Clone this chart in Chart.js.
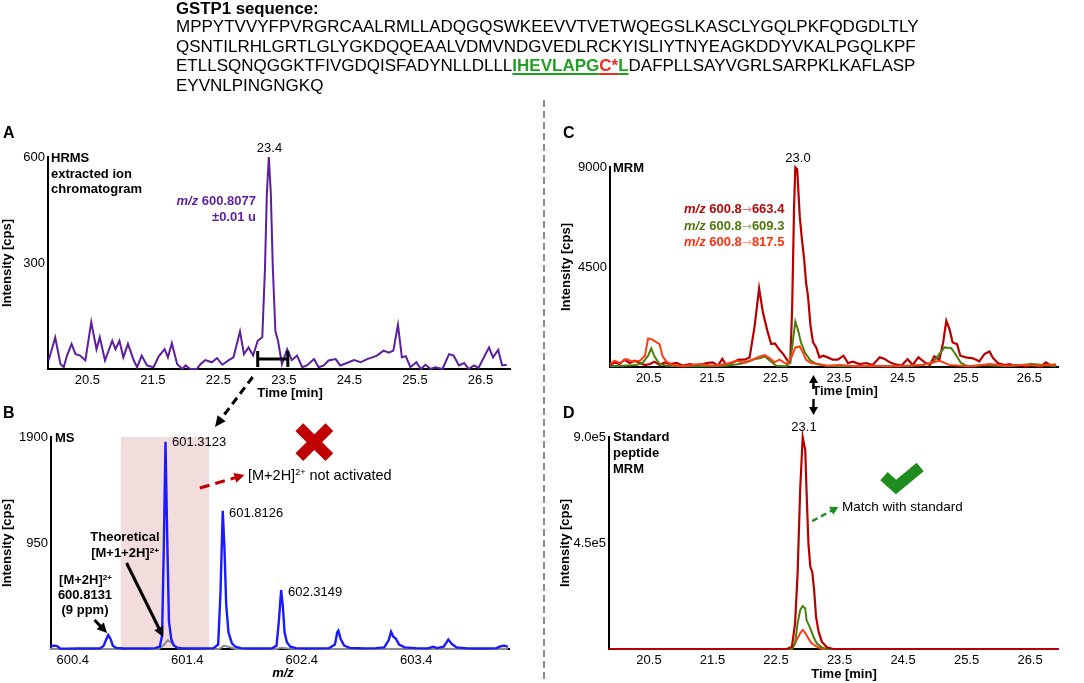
<!DOCTYPE html>
<html lang="en">
<head>
<meta charset="UTF-8">
<script src="https://cdn.jsdelivr.net/npm/chart.js"></script>
<title>GSTP1 peptide identification</title>
<style>
  body { margin: 0; background: #fff; }
  #page { position: relative; width: 1084px; height: 683px; overflow: hidden;
          font-family: 'Liberation Sans', Arial, sans-serif; color: #000; }
  #page canvas { position: absolute; left: 0; top: 0; }
  .t { position: absolute; white-space: nowrap; line-height: 20px; }
  sup { font-size: 62%; line-height: 0; vertical-align: 0.55em; }
  .pep { font-weight: bold; text-decoration: underline; text-decoration-thickness: 2px; text-underline-offset: 2px; }
  .ar { font-family: 'DejaVu Sans', sans-serif; font-weight: normal; font-size: 12px; }
</style>
</head>
<body>
<div id="page">
  <canvas id="chA" width="1084" height="683"></canvas>
  <canvas id="chB" width="1084" height="683"></canvas>
  <canvas id="chC" width="1084" height="683"></canvas>
  <canvas id="chD" width="1084" height="683"></canvas>
</div>

<script>
// ---- data ----

// A: HRMS extracted ion chromatogram (m/z 600.8077)
const timeA = [19.91, 20.01, 20.09, 20.14, 20.19, 20.26, 20.32, 20.39, 20.47, 20.56,
  20.64, 20.69, 20.77, 20.88, 20.93, 20.99, 21.05, 21.12, 21.21, 21.26,
  21.33, 21.41, 21.51, 21.59, 21.68, 21.73, 21.79, 21.87, 21.95, 22.00,
  22.07, 22.17, 22.23, 22.30, 22.40, 22.48, 22.56, 22.66, 22.73, 22.83,
  22.89, 22.96, 23.03, 23.10, 23.17, 23.21, 23.24, 23.27, 23.30, 23.33,
  23.37, 23.41, 23.47, 23.55, 23.62, 23.70, 23.78, 23.85, 23.96, 24.03,
  24.11, 24.18, 24.29, 24.36, 24.46, 24.57, 24.67, 24.77, 24.85, 24.92,
  25.02, 25.10, 25.17, 25.24, 25.30, 25.36, 25.43, 25.52, 25.59, 25.66,
  25.74, 25.81, 25.92, 26.02, 26.09, 26.17, 26.25, 26.32, 26.40, 26.47,
  26.56, 26.63, 26.69, 26.77, 26.83, 26.90];
const intA = [25, 89, 14, 5, 38, 71, 42, 38, 24, 133,
  56, 90, 24, 80, 56, 80, 33, 71, 24, 5,
  38, 10, 5, 36, 56, 33, 73, 14, 0, 10,
  0, 0, 14, 25, 19, 31, 12, 25, 33, 106,
  42, 61, 38, 80, 90, 280, 497, 600, 497, 290,
  107, 80, 14, 56, 25, 38, 5, 10, 28, 5,
  10, 24, 28, 10, 17, 25, 19, 28, 33, 38,
  52, 46, 52, 125, 33, 36, 5, 19, 0, 12,
  0, 5, 0, 42, 38, 10, 17, 0, 10, 3,
  36, 61, 33, 54, 10, 12];

// B: MS spectrum (blue = measured, grey = theoretical)
const mzB = [600.20, 600.23, 600.26, 600.29, 600.35, 600.45, 600.55, 600.64, 600.67, 600.69,
  600.71, 600.73, 600.75, 600.78, 600.85, 600.95, 601.05, 601.12, 601.16, 601.18,
  601.195, 601.21, 601.225, 601.24, 601.26, 601.28, 601.31, 601.36, 601.45, 601.55,
  601.63, 601.67, 601.69, 601.71, 601.725, 601.74, 601.76, 601.79, 601.82, 601.87,
  601.95, 602.05, 602.14, 602.18, 602.20, 602.22, 602.235, 602.25, 602.27, 602.30,
  602.35, 602.45, 602.55, 602.64, 602.69, 602.71, 602.72, 602.74, 602.77, 602.82,
  602.95, 603.05, 603.12, 603.16, 603.18, 603.20, 603.22, 603.25, 603.30, 603.40,
  603.50, 603.53, 603.55, 603.58, 603.64, 603.68, 603.71, 603.75, 603.85, 604.00,
  604.10, 604.14, 604.17, 604.20];
const intB = [20, 30, 28, 5, 3, 5, 4, 6, 30, 80,
  125, 90, 30, 10, 5, 6, 5, 8, 20, 120,
  900, 1858, 1000, 250, 90, 35, 12, 6, 5, 6,
  8, 40, 500, 1239, 900, 400, 150, 50, 20, 8,
  5, 5, 6, 30, 250, 529, 380, 150, 60, 20,
  8, 5, 6, 8, 40, 150, 164, 90, 30, 10,
  6, 8, 15, 80, 155, 110, 95, 40, 15, 8,
  6, 15, 21, 8, 20, 84, 45, 15, 6, 5,
  8, 25, 30, 18];
const mzTheo = [600.20, 601.15, 601.20, 601.23, 601.27, 601.32, 601.68, 601.72, 601.76, 601.82,
  602.18, 602.22, 602.28, 602.35, 604.20];
const intTheo = [0, 0, 40, 80, 50, 5, 0, 30, 20, 0,
  0, 12, 5, 0, 0];

// C: MRM transitions of the sample
const timeC1 = [19.89, 19.96, 20.04, 20.12, 20.20, 20.28, 20.36, 20.44, 20.52, 20.59,
  20.67, 20.75, 20.83, 20.94, 21.04, 21.15, 21.28, 21.41, 21.51, 21.59,
  21.66, 21.72, 21.83, 21.92, 22.01, 22.09, 22.17, 22.24, 22.30, 22.37,
  22.43, 22.49, 22.55, 22.62, 22.69, 22.73, 22.76, 22.79, 22.81, 22.84,
  22.88, 22.91, 22.95, 22.98, 23.01, 23.05, 23.09, 23.14, 23.19, 23.25,
  23.32, 23.40, 23.48, 23.57, 23.64, 23.72, 23.82, 23.93, 24.03, 24.14,
  24.22, 24.30, 24.37, 24.48, 24.58, 24.66, 24.75, 24.85, 24.93, 25.00,
  25.08, 25.14, 25.19, 25.24, 25.29, 25.36, 25.41, 25.50, 25.61, 25.71,
  25.79, 25.87, 25.92, 26.00, 26.11, 26.19, 26.26, 26.37, 26.45, 26.53,
  26.61, 26.68, 26.76, 26.84, 26.92];
const intC1 = [60, 210, 134, 328, 180, 284, 180, 90, 134, 239,
  90, 209, 134, 180, 60, 134, 60, 180, 209, 60,
  373, 90, 209, 328, 328, 433, 1851, 3538, 2448, 1627,
  1030, 1060, 806, 582, 284, 209, 2597, 7075, 8986, 8897,
  6777, 5881, 4836, 3791, 3194, 1851, 1105, 881, 433, 508,
  433, 328, 328, 508, 180, 239, 134, 180, 90, 433,
  358, 209, 134, 60, 358, 90, 433, 209, 90, 478,
  328, 1105, 2075, 1702, 1105, 1030, 508, 433, 388, 254,
  582, 701, 433, 180, 90, 134, 60, 90, 30, 134,
  60, 30, 209, 60, 90];
const timeC2 = [19.89, 20.10, 20.31, 20.41, 20.49, 20.54, 20.59, 20.67, 20.78, 20.99,
  21.41, 21.72, 21.93, 22.04, 22.17, 22.25, 22.33, 22.41, 22.51, 22.67,
  22.73, 22.77, 22.81, 22.85, 22.90, 22.96, 23.04, 23.14, 23.30, 23.51,
  24.03, 24.56, 24.82, 24.98, 25.08, 25.16, 25.27, 25.35, 25.42, 25.53,
  25.77, 26.13, 26.55, 26.92];
const intC2 = [30, 60, 90, 209, 508, 836, 478, 134, 60, 30,
  30, 60, 134, 209, 358, 388, 478, 284, 60, 30,
  209, 1105, 2045, 1702, 1105, 657, 328, 134, 60, 30,
  30, 30, 90, 209, 582, 881, 851, 508, 180, 30,
  90, 30, 134, 30];
const timeC3 = [19.89, 19.96, 20.04, 20.15, 20.25, 20.36, 20.44, 20.49, 20.54, 20.59,
  20.67, 20.72, 20.78, 20.88, 21.04, 21.30, 21.51, 21.72, 21.88, 21.99,
  22.14, 22.25, 22.33, 22.41, 22.48, 22.56, 22.67, 22.75, 22.81, 22.88,
  22.93, 22.98, 23.06, 23.17, 23.30, 23.51, 23.77, 24.03, 24.30, 24.56,
  24.82, 25.08, 25.24, 25.40, 25.61, 25.87, 26.13, 26.40, 26.66, 26.92];
const intC3 = [134, 284, 180, 358, 239, 284, 508, 1284, 1254, 1179,
  1030, 478, 239, 90, 30, 134, 60, 134, 284, 209,
  328, 478, 537, 388, 209, 328, 134, 433, 881, 926,
  657, 328, 180, 134, 60, 90, 30, 60, 30, 60,
  90, 284, 90, 60, 30, 134, 60, 90, 60, 119];

// D: MRM of the standard peptide
const timeD1 = [19.87, 22.67, 22.75, 22.80, 22.84, 22.88, 22.92, 22.96, 22.98, 23.01,
  23.04, 23.07, 23.10, 23.13, 23.17, 23.22, 23.30, 23.40, 26.95];
const intD1 = [0, 0, 9900, 109000, 321000, 675000, 900000, 845000, 675000, 448600,
  349000, 328000, 250000, 137000, 73500, 31000, 7000, 0, 0];
const timeD2 = [19.87, 22.75, 22.80, 22.84, 22.88, 22.92, 22.96, 22.98, 23.04, 23.09,
  23.14, 23.22, 23.30, 26.95];
const intD2 = [0, 0, 24000, 109000, 165000, 182500, 172000, 123000, 87700, 52000,
  24000, 7000, 0, 0];
const timeD3 = [19.87, 22.75, 22.81, 22.88, 22.92, 22.96, 23.01, 23.06, 23.14, 23.22, 26.95];
const intD3 = [0, 0, 31000, 67000, 80700, 69000, 45000, 24000, 9900, 0, 0];

// tick labels
const timeTicks = [20.5, 21.5, 22.5, 23.5, 24.5, 25.5, 26.5];
const mzTicks = [600.4, 601.4, 602.4, 603.4];
const ticksA = [300, 600];
const ticksB = [950, 1900];
const ticksC = [4500, 9000];
const ticksD = [450000, 900000];

// ---- drawing ----
const FONT = "'Liberation Sans', Arial, sans-serif";
Chart.defaults.font.family = FONT;
const RED = '#b80000', GREEN = '#4a7f0c', ORANGE = '#ff3c14';

function pts(xs, ys) { return xs.map((x, i) => ({ x: x, y: ys[i] })); }

function line(xs, ys, color, w) {
  return { data: pts(xs, ys), borderColor: color, borderWidth: w || 2, clip: false };
}

function arrow(ctx, x1, y1, x2, y2, o) {
  const a = Math.atan2(y2 - y1, x2 - x1), hl = o.head || 10, hw = o.hw || 5;
  ctx.save();
  ctx.strokeStyle = ctx.fillStyle = o.color;
  ctx.lineWidth = o.width;
  ctx.setLineDash(o.dash || []);
  ctx.beginPath();
  ctx.moveTo(x1, y1);
  ctx.lineTo(x2 - Math.cos(a) * hl * 0.8, y2 - Math.sin(a) * hl * 0.8);
  ctx.stroke();
  ctx.setLineDash([]);
  ctx.beginPath();
  ctx.moveTo(x2, y2);
  ctx.lineTo(x2 - hl * Math.cos(a) + hw * Math.sin(a), y2 - hl * Math.sin(a) - hw * Math.cos(a));
  ctx.lineTo(x2 - hl * Math.cos(a) - hw * Math.sin(a), y2 - hl * Math.sin(a) + hw * Math.cos(a));
  ctx.closePath();
  ctx.fill();
  ctx.restore();
}

// x-axis titles sit a little right of centre in the figure, so they are placed as text below
function panel(id, pad, yw, xr, yr, xt, yt, yfmt, datasets, extra) {
  return new Chart(document.getElementById(id), {
    type: 'line',
    data: { datasets: datasets },
    options: {
      responsive: false,
      animation: false,
      events: [],
      layout: { padding: pad },
      plugins: { legend: { display: false }, tooltip: { enabled: false } },
      elements: { point: { radius: 0 }, line: { tension: 0 } },
      scales: {
        x: {
          type: 'linear', min: xr[0], max: xr[1],
          afterBuildTicks: s => { s.ticks = xt.map(v => ({ value: v })); },
          afterFit: s => { s.height = 34; },
          grid: { display: false, drawTicks: false },
          border: { display: true, color: '#000', width: 2 },
          ticks: { color: '#000', font: { size: 13 }, padding: 4, autoSkip: false, maxRotation: 0,
                   callback: v => v.toFixed(1) }
        },
        y: {
          min: yr[0], max: yr[1],
          afterBuildTicks: s => { s.ticks = yt.map(v => ({ value: v })); },
          afterFit: s => { s.width = yw; },
          grid: { display: false, drawTicks: false },
          border: { display: true, color: '#000', width: 2 },
          ticks: { color: '#000', font: { size: 13 }, padding: 3, callback: yfmt },
          title: { display: true, text: 'Intensity [cps]', color: '#000',
                   font: { size: 13, weight: 'bold' }, padding: 0 }
        }
      }
    },
    plugins: extra
  });
}

const plain = v => String(v);

// A
panel('chA', { left: 0, top: 157, right: 574, bottom: 280 }, 48, [19.9, 26.95], [0, 600],
  timeTicks, ticksA, plain,
  [line(timeA, intA, '#5c1f9e', 2)],
  [{
    id: 'marksA',
    afterDatasetsDraw(c) {
      const ctx = c.ctx, x = c.scales.x, y = c.scales.y;
      const x0 = x.getPixelForValue(23.10), x1 = x.getPixelForValue(23.56), yy = y.getPixelForValue(28);
      ctx.save();
      ctx.strokeStyle = '#000';
      ctx.lineWidth = 3;
      ctx.beginPath();
      ctx.moveTo(x0, yy); ctx.lineTo(x1, yy);
      ctx.moveTo(x0, yy - 8); ctx.lineTo(x0, yy + 8);
      ctx.moveTo(x1, yy - 8); ctx.lineTo(x1, yy + 8);
      ctx.stroke();
      ctx.restore();
      // dashed link from the selected window down to the spectrum
      arrow(ctx, x0 - 5, c.chartArea.bottom + 8, 215, 427, { color: '#000', width: 3, dash: [8, 5], head: 11, hw: 5 });
    }
  }]);

// B
panel('chB', { left: 0, top: 437, right: 575, bottom: 0 }, 51, [600.21, 604.21], [0, 1900],
  mzTicks, ticksB, plain,
  [line(mzB, intB, '#1a1aff', 2.4), line(mzTheo, intTheo, '#8c8c8c', 2)],
  [{
    id: 'marksB',
    beforeDatasetsDraw(c) {
      const ctx = c.ctx, x = c.scales.x, y = c.scales.y;
      const l = x.getPixelForValue(600.82), r = x.getPixelForValue(601.59);
      const t = y.getPixelForValue(1900), b = y.getPixelForValue(0);
      ctx.save();
      ctx.fillStyle = '#f2dcdc';
      ctx.fillRect(l, t, r - l, b - t - 1);
      ctx.restore();
    },
    afterDatasetsDraw(c) {
      const ctx = c.ctx, x = c.scales.x, y = c.scales.y;
      const P = (m, v) => [x.getPixelForValue(m), y.getPixelForValue(v)];
      // red cross
      const [cx, cy] = P(602.51, 1855);
      ctx.save();
      ctx.strokeStyle = '#c00000';
      ctx.lineWidth = 11;
      ctx.beginPath();
      ctx.moveTo(cx - 15, cy - 15); ctx.lineTo(cx + 15, cy + 15);
      ctx.moveTo(cx + 15, cy - 15); ctx.lineTo(cx - 15, cy + 15);
      ctx.stroke();
      ctx.restore();
      let a = P(601.51, 1443), b = P(601.90, 1559);
      arrow(ctx, a[0], a[1], b[0], b[1], { color: '#c00000', width: 3, dash: [10, 6], head: 10, hw: 5 });
      a = P(600.87, 771); b = P(601.19, 108);
      arrow(ctx, a[0], a[1], b[0], b[1], { color: '#000', width: 3, head: 10, hw: 5 });
      a = P(600.59, 260); b = P(600.70, 143);
      arrow(ctx, a[0], a[1], b[0], b[1], { color: '#000', width: 3, head: 10, hw: 5 });
    }
  }]);

// C
panel('chC', { left: 559, top: 167, right: 26, bottom: 282 }, 51, [19.89, 26.95], [0, 9000],
  timeTicks, ticksC, plain,
  [line(timeC3, intC3, ORANGE, 2), line(timeC2, intC2, GREEN, 2), line(timeC1, intC1, RED, 2.2)],
  [{
    id: 'marksC',
    afterDraw(c) {
      const ctx = c.ctx;
      // dashed divider between left and right panels
      ctx.save();
      ctx.strokeStyle = '#8a8a8a';
      ctx.lineWidth = 2;
      ctx.setLineDash([7, 4]);
      ctx.beginPath();
      ctx.moveTo(544, 100); ctx.lineTo(544, 683);
      ctx.stroke();
      ctx.restore();
      // link arrows between C and D
      const ax = Math.round(c.scales.x.getPixelForValue(23.09)) + 0.5, base = c.chartArea.bottom;
      arrow(ctx, ax, base + 22, ax, base + 8, { color: '#000', width: 2.5, head: 8, hw: 4.5 });
      arrow(ctx, ax, base + 32, ax, base + 48, { color: '#000', width: 2.5, head: 8, hw: 4.5 });
    }
  }]);

// D
panel('chD', { left: 558, top: 437, right: 26, bottom: 0 }, 51, [19.87, 26.94], [0, 900000],
  timeTicks, ticksD, v => (v / 1e5).toFixed(1) + 'e5',
  [line(timeD1, intD1, RED, 2.2), line(timeD2, intD2, GREEN, 2), line(timeD3, intD3, ORANGE, 2)],
  [{
    id: 'marksD',
    afterDatasetsDraw(c) {
      const ctx = c.ctx, x = c.scales.x, y = c.scales.y;
      const P = (t, v) => [x.getPixelForValue(t), y.getPixelForValue(v)];
      const p1 = P(24.20, 734000), p2 = P(24.39, 687700), p3 = P(24.77, 772600);
      ctx.save();
      ctx.strokeStyle = '#1e8c1e';
      ctx.lineWidth = 11;
      ctx.lineJoin = 'miter';
      ctx.beginPath();
      ctx.moveTo(p1[0], p1[1]); ctx.lineTo(p2[0], p2[1]); ctx.lineTo(p3[0], p3[1]);
      ctx.stroke();
      ctx.restore();
      const a = P(23.07, 543000), b = P(23.48, 602800);
      arrow(ctx, a[0], a[1], b[0], b[1], { color: '#1e8c1e', width: 2.5, dash: [6, 4], head: 8, hw: 4.5 });
    }
  }]);

// ---- text ----
const page = document.getElementById('page');
function put(html, x, cy, css, align) {
  const d = document.createElement('div');
  d.className = 't';
  d.innerHTML = html;
  d.style.cssText = css || '';
  d.style.left = x + 'px';
  d.style.top = (cy - 10) + 'px';
  if (align === 'c') d.style.transform = 'translateX(-50%)';
  if (align === 'r') d.style.transform = 'translateX(-100%)';
  page.appendChild(d);
}
const B13 = 'font-size:13px;font-weight:bold;';
const N13 = 'font-size:13px;';
const MZ = '<i>m/z</i>';
const SEQ = 'font-size:17px;';

put('GSTP1 sequence:', 176, 9, 'font-size:16.8px;font-weight:bold;');
put('MPPYTVVYFPVRGRCAALRMLLADQGQSWKEEVVTVETWQEGSLKASCLYGQLPKFQDGDLTLY', 176, 27, SEQ);
put('QSNTILRHLGRTLGLYGKDQQEAALVDMVNDGVEDLRCKYISLIYTNYEAGKDDYVKALPGQLKPF', 176, 46.5, SEQ);
put('ETLLSQNQGGKTFIVGDQISFADYNLLDLLL<span class="pep" style="color:#22a022">IHEVLAPG</span>' +
    '<span class="pep" style="color:#ee2a1e">C*</span><span class="pep" style="color:#22a022">L</span>' +
    'DAFPLLSAYVGRLSARPKLKAFLASP', 176, 66, SEQ);
put('EYVNLPINGNGKQ', 176, 86, SEQ);

put('A', 3, 133, 'font-size:16px;font-weight:bold;');
put('B', 3, 413, 'font-size:16px;font-weight:bold;');
put('C', 563, 133, 'font-size:16px;font-weight:bold;');
put('D', 563, 413, 'font-size:16px;font-weight:bold;');

// axis titles
put('Time [min]', 290, 393, B13, 'c');
put('<i>m/z</i>', 283, 673, B13, 'c');
put('Time [min]', 845, 391, B13, 'c');
put('Time [min]', 844, 674, B13, 'c');

// A
put('HRMS', 51, 158, B13);
put('extracted ion', 51, 173.5, B13);
put('chromatogram', 51, 189, B13);
put(MZ + ' 600.8077', 256, 201, B13 + 'color:#5c1f9e;', 'r');
put('±0.01 u', 256, 217, B13 + 'color:#5c1f9e;', 'r');
put('23.4', 269.5, 148, N13, 'c');

// B
put('MS', 55, 438, B13);
put('601.3123', 172, 442, N13);
put('601.8126', 229, 513, N13);
put('602.3149', 288, 592, N13);
put('Theoretical', 125, 537, B13, 'c');
put('[M+1+2H]<sup>2+</sup>', 125, 553, B13, 'c');
put('[M+2H]<sup>2+</sup>', 85.5, 580, B13, 'c');
put('600.8131', 85, 595, B13, 'c');
put('(9 ppm)', 85, 610, B13, 'c');
put('[M+2H]<sup>2+</sup> not activated', 248, 475, 'font-size:14.5px;');

// C
put('MRM', 613, 168, B13);
put('23.0', 798, 158, N13, 'c');
put(MZ + ' 600.8<span class="ar" style="color:#d77">→</span>663.4', 684, 209, B13 + 'color:#b00a0a;');
put(MZ + ' 600.8<span class="ar" style="color:#9ab86a">→</span>609.3', 684, 226, B13 + 'color:#4f7a0c;');
put(MZ + ' 600.8<span class="ar" style="color:#ff9a80">→</span>817.5', 684, 242, B13 + 'color:#ff3010;');

// D
put('Standard', 613, 437, B13);
put('peptide', 613, 453, B13);
put('MRM', 613, 469, B13);
put('23.1', 804, 427, N13, 'c');
put('Match with standard', 842, 507, 'font-size:13.5px;');
</script>
</body>
</html>
